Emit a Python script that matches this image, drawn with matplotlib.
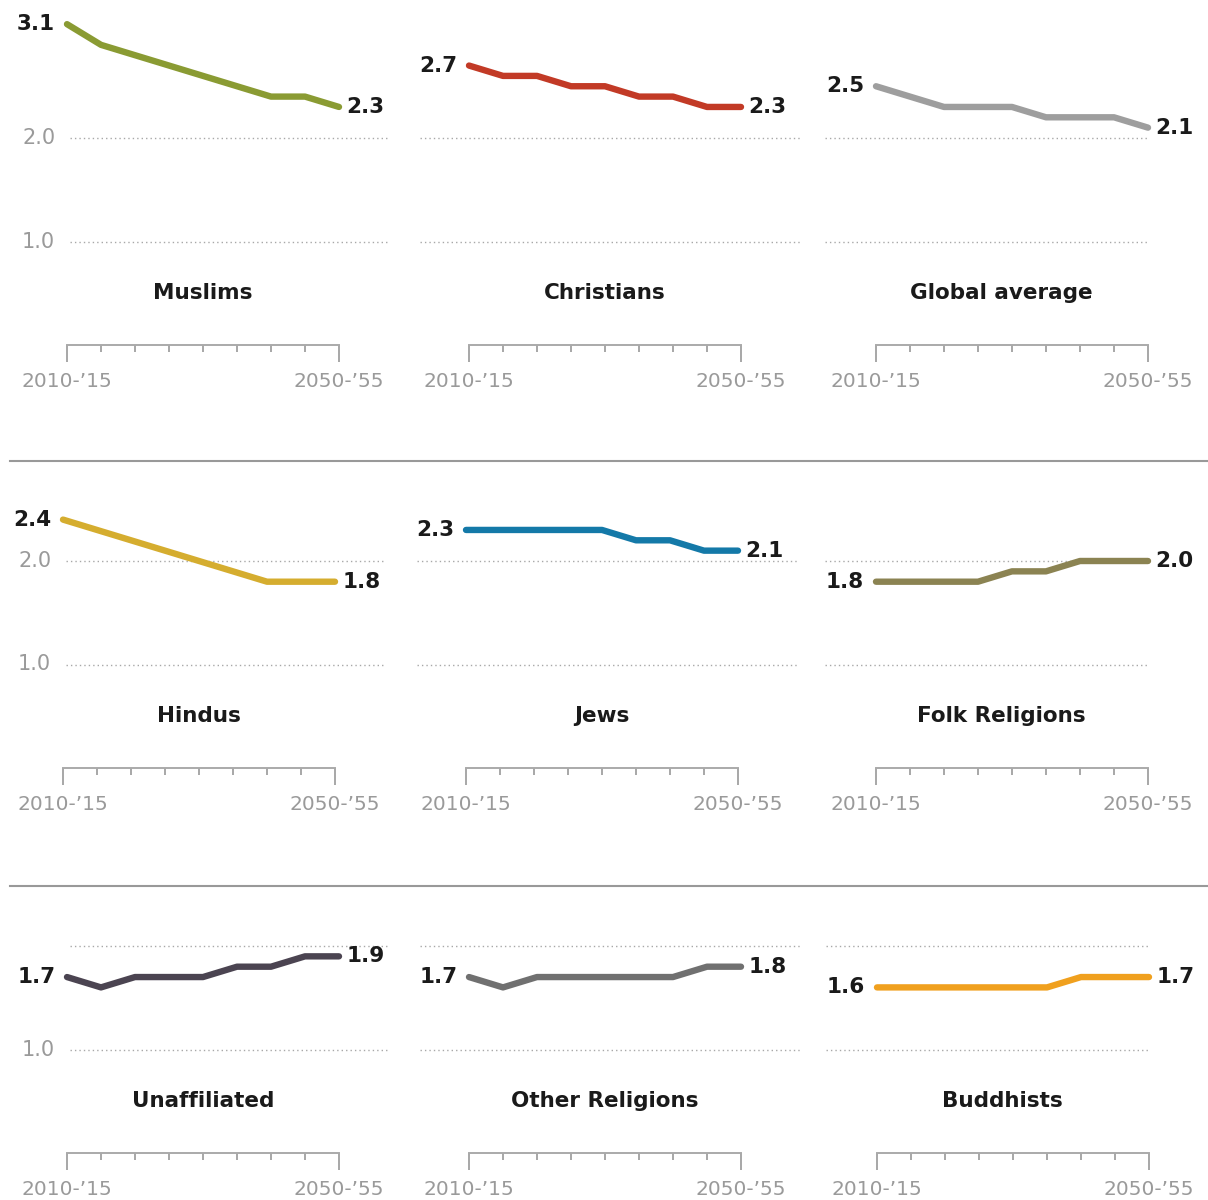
import matplotlib
matplotlib.use("Agg")
import matplotlib.pyplot as plt
from matplotlib.lines import Line2D
from matplotlib.ticker import FixedLocator

# ── data ────────────────────────────────────────────────────────────────────
periods = ["2010-\u201915", "2015-\u201920", "2020-\u201925", "2025-\u201930",
           "2030-\u201935", "2035-\u201940", "2040-\u201945", "2045-\u201950",
           "2050-\u201955"]

groups = ["Muslims", "Christians", "Global average",
          "Hindus", "Jews", "Folk Religions",
          "Unaffiliated", "Other Religions", "Buddhists"]

muslims      = [3.1, 2.9, 2.8, 2.7, 2.6, 2.5, 2.4, 2.4, 2.3]
christians   = [2.7, 2.6, 2.6, 2.5, 2.5, 2.4, 2.4, 2.3, 2.3]
global_avg   = [2.5, 2.4, 2.3, 2.3, 2.3, 2.2, 2.2, 2.2, 2.1]
hindus       = [2.4, 2.3, 2.2, 2.1, 2.0, 1.9, 1.8, 1.8, 1.8]
jews         = [2.3, 2.3, 2.3, 2.3, 2.3, 2.2, 2.2, 2.1, 2.1]
folk         = [1.8, 1.8, 1.8, 1.8, 1.9, 1.9, 2.0, 2.0, 2.0]
unaffiliated = [1.7, 1.6, 1.7, 1.7, 1.7, 1.8, 1.8, 1.9, 1.9]
other        = [1.7, 1.6, 1.7, 1.7, 1.7, 1.7, 1.7, 1.8, 1.8]
buddhists    = [1.6, 1.6, 1.6, 1.6, 1.6, 1.6, 1.7, 1.7, 1.7]

series = [muslims, christians, global_avg,
          hindus, jews, folk,
          unaffiliated, other, buddhists]

colors = ["#8a9b33", "#c23a26", "#9e9e9e",
          "#d5ad2f", "#1479a8", "#8b8352",
          "#4b4451", "#707070", "#f0a01e"]

grid_values = [1.0, 2.0]

# ── layout (pixels) ─────────────────────────────────────────────────────────
W, H = 1208, 1200
STEP = 34.0          # px between periods
UNIT = 103.5         # px per 1.0 of fertility rate
row_zero = [345, 768, 1153]                 # y pixel of value 0 per row
col_x0 = [[67, 469, 876], [63, 466, 876], [67, 469, 877]]
grid_span = [(0.1, 9.5), (-1.45, 9.75), (-1.5, 8.0)]
title_x = [4.0, 4.0, 3.7]
XLIM = (-2, 10)
YLIM = (0, 3.3)

GRAY_TXT = "#9a9a9a"
plt.rcParams["font.family"] = ["DejaVu Sans"]

fig = plt.figure(figsize=(W / 100, H / 100), dpi=100)
fig.patch.set_facecolor("white")

for r in range(3):
    for c in range(3):
        k = r * 3 + c
        x0 = col_x0[r][c]
        left = x0 + XLIM[0] * STEP
        width = (XLIM[1] - XLIM[0]) * STEP
        height = (YLIM[1] - YLIM[0]) * UNIT
        bottom = H - row_zero[r]
        ax = fig.add_axes([left / W, bottom / H, width / W, height / H])
        ax.set_facecolor("none")
        ax.set_xlim(*XLIM)
        ax.set_ylim(*YLIM)

        # dotted reference lines
        g0, g1 = grid_span[c]
        ax.hlines(grid_values, g0, g1, colors="#a8a8a8",
                  linestyles=(0, (1, 2.2)), lw=1.0, zorder=1)

        vals = series[k]
        xs = list(range(len(vals)))
        ax.plot(xs, vals, color=colors[k], lw=4.6,
                solid_capstyle="round", solid_joinstyle="round",
                clip_on=False, zorder=3)

        # start / end value labels
        ax.annotate(f"{vals[0]:.1f}", (xs[0], vals[0]), xytext=(-8.5, 0),
                    textcoords="offset points", ha="right", va="center",
                    fontsize=15.5, fontweight="bold", color="#1a1a1a")
        ax.annotate(f"{vals[-1]:.1f}", (xs[-1], vals[-1]), xytext=(5.5, 0),
                    textcoords="offset points", ha="left", va="center",
                    fontsize=15.5, fontweight="bold", color="#1a1a1a")

        # y labels only in left column
        if c == 0:
            for gv in grid_values:
                if r == 2 and gv == 2.0:
                    continue
                ax.annotate(f"{gv:.1f}", (0, gv), xytext=(-8.5, 0),
                            textcoords="offset points", ha="right",
                            va="center", fontsize=15, color=GRAY_TXT)

        ax.text(title_x[c], 0.5, groups[k], ha="center", va="center",
                fontsize=15.5, fontweight="bold", color="#1a1a1a")

        # x axis: bottom spine at 0 with end and inner ticks
        for side in ["left", "right", "top"]:
            ax.spines[side].set_visible(False)
        ax.spines["bottom"].set_bounds(0, len(vals) - 1)
        ax.spines["bottom"].set_color("#aaaaaa")
        ax.spines["bottom"].set_linewidth(1.4)
        ax.set_yticks([])
        ax.xaxis.set_major_locator(FixedLocator([0, len(vals) - 1]))
        ax.set_xticklabels([periods[0], periods[-1]])
        ax.xaxis.set_minor_locator(FixedLocator(xs[1:-1]))
        ax.tick_params(axis="x", which="major", length=12.5, width=1.3,
                       color="#a0a0a0", labelsize=14.5, labelcolor=GRAY_TXT,
                       pad=7)
        ax.tick_params(axis="x", which="minor", length=5, width=1.3,
                       color="#a0a0a0")

# separators between rows
for y in [461, 886]:
    fig.add_artist(Line2D([10 / W, 1.0], [1 - y / H, 1 - y / H],
                          color="#999999", lw=1.5))

fig.savefig("out.png", dpi=100)
